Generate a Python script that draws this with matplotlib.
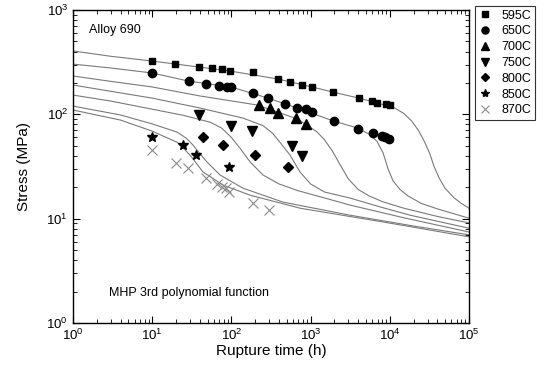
import matplotlib
matplotlib.use("Agg")
import matplotlib.pyplot as plt
from matplotlib.ticker import LogLocator, NullFormatter

plt.rcParams['font.family'] = ['Liberation Sans', 'DejaVu Sans']
plt.rcParams['mathtext.default'] = 'regular'

# measured rupture data (time h, stress MPa)
t595 = [10, 19.4, 39, 57, 76, 96, 187, 387, 550, 779, 1042, 1920, 4085, 5960, 6890, 8950, 10000]
s595 = [324, 303, 284, 278, 272, 260, 255, 218, 204, 191, 183, 164, 143, 134, 128, 126, 123]
t650 = [10, 29, 48, 70, 88, 99, 187, 290, 475, 674, 875, 1042, 1975, 3965, 6140, 7980, 8700, 9770]
s650 = [249, 208, 195, 187, 183, 183, 160, 143, 126, 115, 112, 105, 86, 72, 66, 62, 60.5, 58]
t700 = [223, 307, 387, 654, 875]
s700 = [123, 115, 103, 92, 81]
t750 = [39, 99, 182, 582, 779]
s750 = [98, 77, 69, 50, 40]
t800 = [44, 78, 199, 518]
s800 = [61, 51, 41, 31]
t850 = [10, 24.5, 36, 93]
s850 = [61, 51, 41, 31]
t870 = [10, 20, 28, 48, 66, 76, 85, 93, 187, 298]
s870 = [45.5, 34, 30.5, 24.5, 21.5, 20, 19.6, 18, 14.1, 12.1]

# MHP fitted curves
ct595 = [1, 3, 10, 39, 96, 387, 1040, 2150, 4085, 8200, 11500, 15000, 19000, 23000,
         27000, 32000, 36000, 42000, 50000, 65000, 80000, 100000]
cs595 = [405, 360, 324, 284, 260, 218, 183, 160, 143, 124, 115, 102, 86, 70,
         56, 42, 32, 24.5, 19.5, 15.8, 14, 12.6]
ct650 = [1, 3, 10, 29, 99, 290, 674, 1975, 3900, 5600, 6900, 8200, 9500, 11000,
         13500, 17000, 25000, 40000, 100000]
cs650 = [303, 278, 249, 208, 183, 143, 115, 86, 74, 64, 55, 43, 30, 23,
         19, 16.5, 14, 12.4, 10.1]
ct700 = [1, 3, 10, 40, 210, 635, 900, 1200, 1500, 1900, 2350, 3000, 4000, 5500,
         8000, 15000, 40000, 100000]
cs700 = [233, 207, 183, 150, 123, 92, 79, 68, 57, 44, 33, 24, 19, 16.5,
         14.6, 12.6, 10.5, 9.1]
ct750 = [1, 2.4, 10, 40, 140, 250, 330, 410, 550, 735, 1000, 1500, 3100, 8000, 18000, 100000]
cs750 = [191, 171, 143, 115, 92, 78, 66, 54, 40.7, 28, 21.5, 18, 15.8, 12.8, 10.8, 8.1]
ct800 = [1, 3, 10, 24.5, 54, 75, 100, 128, 172, 251, 400, 700, 1500, 3140, 15000, 100000]
cs800 = [153, 134, 112, 98, 84, 74, 60, 47.5, 35, 26.2, 21.5, 18.5, 15.8, 13.5, 10.2, 7.45]
ct850 = [1, 4, 10, 20.6, 27, 32.7, 40, 49, 72, 140, 449, 3140, 20000, 100000]
cs850 = [120, 98.5, 81, 67.6, 59, 50.8, 42, 35, 26.2, 19.6, 14.4, 10.8, 8.5, 7.0]
ct870 = [1, 4, 10, 20.6, 25, 30, 36, 43.8, 60, 78, 172, 735, 8200, 100000]
cs870 = [110, 88, 69, 54, 47, 40.7, 34, 28, 24, 21, 16.8, 12.6, 9.3, 6.7]

labels = ['595C', '650C', '700C', '750C', '800C', '850C', '870C']

fig = plt.figure(figsize=(5.44, 3.74), dpi=100)
ax = fig.add_axes([73 / 544, 1 - 323 / 374, 396 / 544, 313 / 374])

curve_color = '#7a7a7a'
for ct, cs in [(ct595, cs595), (ct650, cs650), (ct700, cs700), (ct750, cs750),
               (ct800, cs800), (ct850, cs850), (ct870, cs870)]:
    ax.plot(ct, cs, color=curve_color, lw=0.8, zorder=1, solid_joinstyle='round')

ax.plot(t595, s595, 's', color='black', ms=5, ls='none', label=labels[0])
ax.plot(t650, s650, 'o', color='black', ms=6, ls='none', label=labels[1])
ax.plot(t700, s700, '^', color='black', ms=6.5, ls='none', label=labels[2])
ax.plot(t750, s750, 'v', color='black', ms=6.5, ls='none', label=labels[3])
ax.plot(t800, s800, 'D', color='black', ms=5, ls='none', label=labels[4])
ax.plot(t850, s850, '*', color='black', ms=7, ls='none', label=labels[5])
ax.plot(t870, s870, 'x', color='#8c8c8c', ms=7, mew=0.8, ls='none', label=labels[6])

ax.set_xscale('log')
ax.set_yscale('log')
ax.set_xlim(1, 1e5)
ax.set_ylim(1, 1e3)

ax.xaxis.set_major_locator(LogLocator(base=10, numticks=10))
ax.xaxis.set_minor_locator(LogLocator(base=10, subs=range(2, 10), numticks=10))
ax.xaxis.set_minor_formatter(NullFormatter())
ax.yaxis.set_minor_formatter(NullFormatter())
ax.tick_params(which='both', direction='in', top=True, right=True, labelsize=9.5)
ax.tick_params(which='major', length=5, width=0.8)
ax.tick_params(which='minor', length=3, width=0.6)
for sp in ax.spines.values():
    sp.set_linewidth(1.0)

ax.set_xlabel('Rupture time (h)', fontsize=11, labelpad=1)
ax.set_ylabel('Stress (MPa)', fontsize=11, labelpad=11)

ax.text(0.04, 0.955, 'Alloy 690', transform=ax.transAxes, fontsize=9, va='top')
ax.text(0.09, 0.085, 'MHP 3rd polynomial function', transform=ax.transAxes, fontsize=9)

leg = fig.legend(loc='upper left', bbox_to_anchor=(475 / 544, 1 - 6 / 374),
                 fontsize=9, frameon=True, fancybox=False, edgecolor='black',
                 handlelength=1.0, handletextpad=0.8, labelspacing=0.3,
                 borderpad=0.3, markerscale=0.85, borderaxespad=0)
leg.get_frame().set_linewidth(0.8)

fig.savefig('out.png', dpi=100)
